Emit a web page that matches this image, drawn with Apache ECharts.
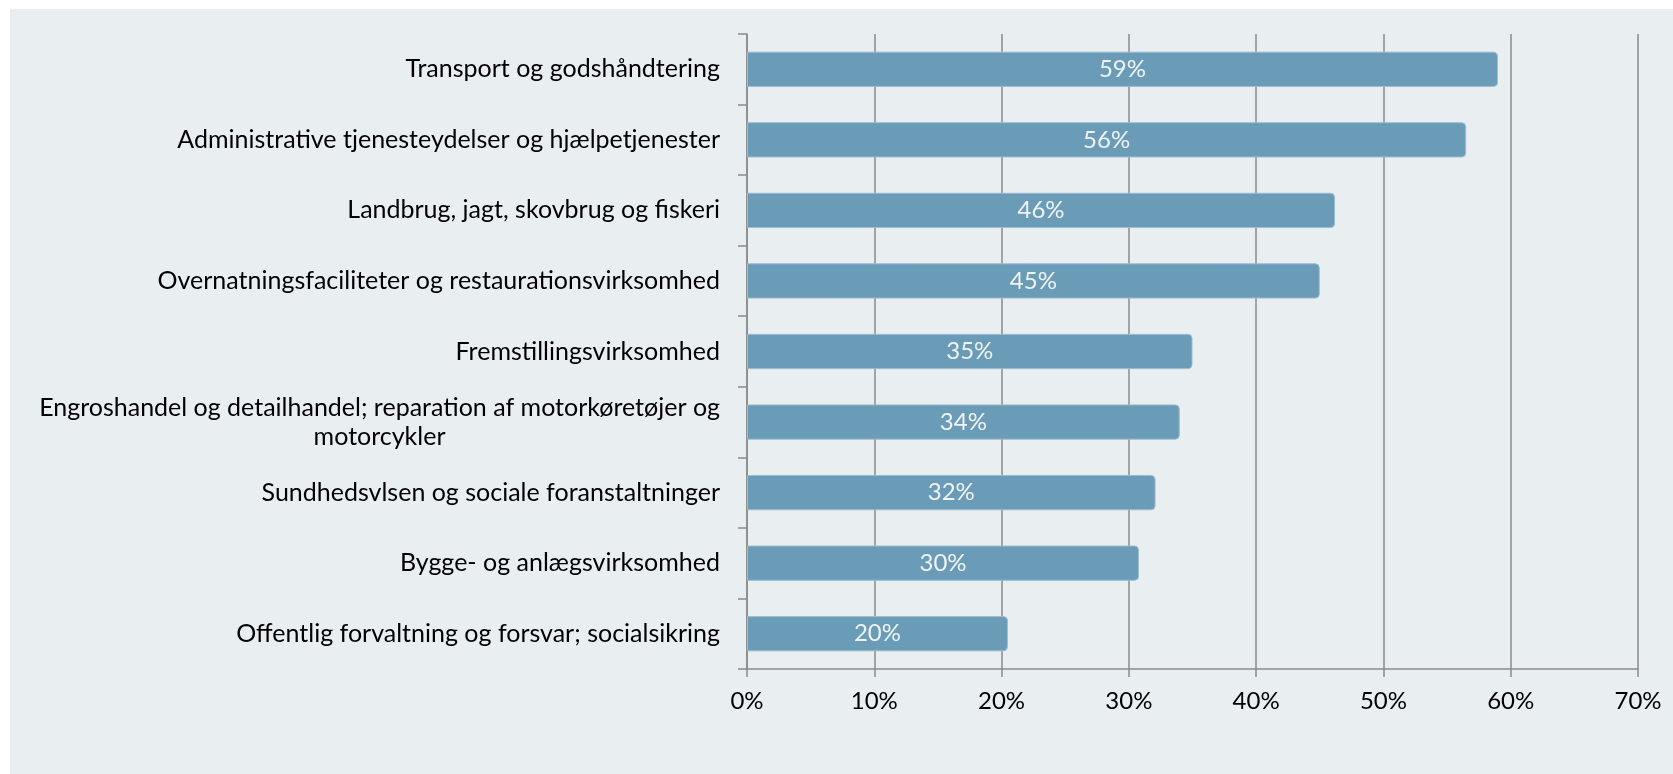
<!DOCTYPE html>
<html>
<head>
<meta charset="utf-8">
<script src="https://cdn.jsdelivr.net/npm/echarts@6/dist/echarts.min.js"></script>
<style>
  html, body { margin: 0; padding: 0; background: #ffffff; }
  #chart { position: absolute; left: 10px; top: 9px; width: 1663px; height: 765px; background: #e9eef1; }
</style>
</head>
<body>
<div id="chart"></div>
<script>
var categories = [
    'Transport og godshåndtering',
    'Administrative tjenesteydelser og hjælpetjenester',
    'Landbrug, jagt, skovbrug og fiskeri',
    'Overnatningsfaciliteter og restaurationsvirksomhed',
    'Fremstillingsvirksomhed',
    'Engroshandel og detailhandel; reparation af motorkøretøjer og\nmotorcykler',
    'Sundhedsvlsen og sociale foranstaltninger',
    'Bygge- og anlægsvirksomhed',
    'Offentlig forvaltning og forsvar; socialsikring'
];
// bar lengths (percent)
var values = [59.0, 56.5, 46.2, 45.0, 35.0, 34.0, 32.1, 30.8, 20.5];
// the printed labels on the bars
var barLabels = ['59%', '56%', '46%', '45%', '35%', '34%', '32%', '30%', '20%'];
var xTicks = [0, 10, 20, 30, 40, 50, 60, 70];

var FONT = 'Lato';
var chart = echarts.init(document.getElementById('chart'));

chart.setOption({
    animation: false,
    textStyle: { fontFamily: FONT },
    grid: { left: 737, right: 35, top: 25, bottom: 105 },
    xAxis: {
        type: 'value',
        min: xTicks[0],
        max: xTicks[xTicks.length - 1],
        interval: 10,
        axisLine: { show: true, lineStyle: { color: '#8a8a8a', width: 1.5 } },
        axisTick: { show: true, length: 8, lineStyle: { color: '#8a8a8a', width: 1.5 } },
        splitLine: { show: true, lineStyle: { color: '#8a8a8a', width: 1.5 } },
        axisLabel: {
            formatter: '{value}%',
            color: '#000',
            fontSize: 24,
            fontFamily: FONT,
            margin: 20
        }
    },
    yAxis: {
        type: 'category',
        inverse: true,
        data: categories,
        axisLine: { show: true, lineStyle: { color: '#8a8a8a', width: 1.5 } },
        axisTick: { show: true, length: 9, inside: false, lineStyle: { color: '#8a8a8a', width: 1.5 } },
        axisLabel: {
            margin: 27,
            color: '#000',
            fontSize: 25,
            fontFamily: FONT,
            formatter: function (v) {
                return v.split('\n').map(function (s) { return '{c|' + s + '}'; }).join('\n');
            },
            rich: {
                c: { align: 'center', fontSize: 25, fontFamily: FONT, color: '#000', lineHeight: 29 }
            }
        }
    },
    series: [{
        type: 'bar',
        data: values,
        barWidth: '50%',
        itemStyle: {
            color: '#6b9cb7',
            borderColor: '#9dbdd0',
            borderWidth: 1,
            borderRadius: [0, 4, 4, 0]
        },
        label: {
            show: true,
            position: 'inside',
            color: '#eef3f6',
            fontSize: 24,
            fontFamily: FONT,
            formatter: function (p) { return barLabels[p.dataIndex]; }
        }
    }]
});
window.addEventListener('resize', function () { chart.resize(); });
</script>
</body>
</html>
